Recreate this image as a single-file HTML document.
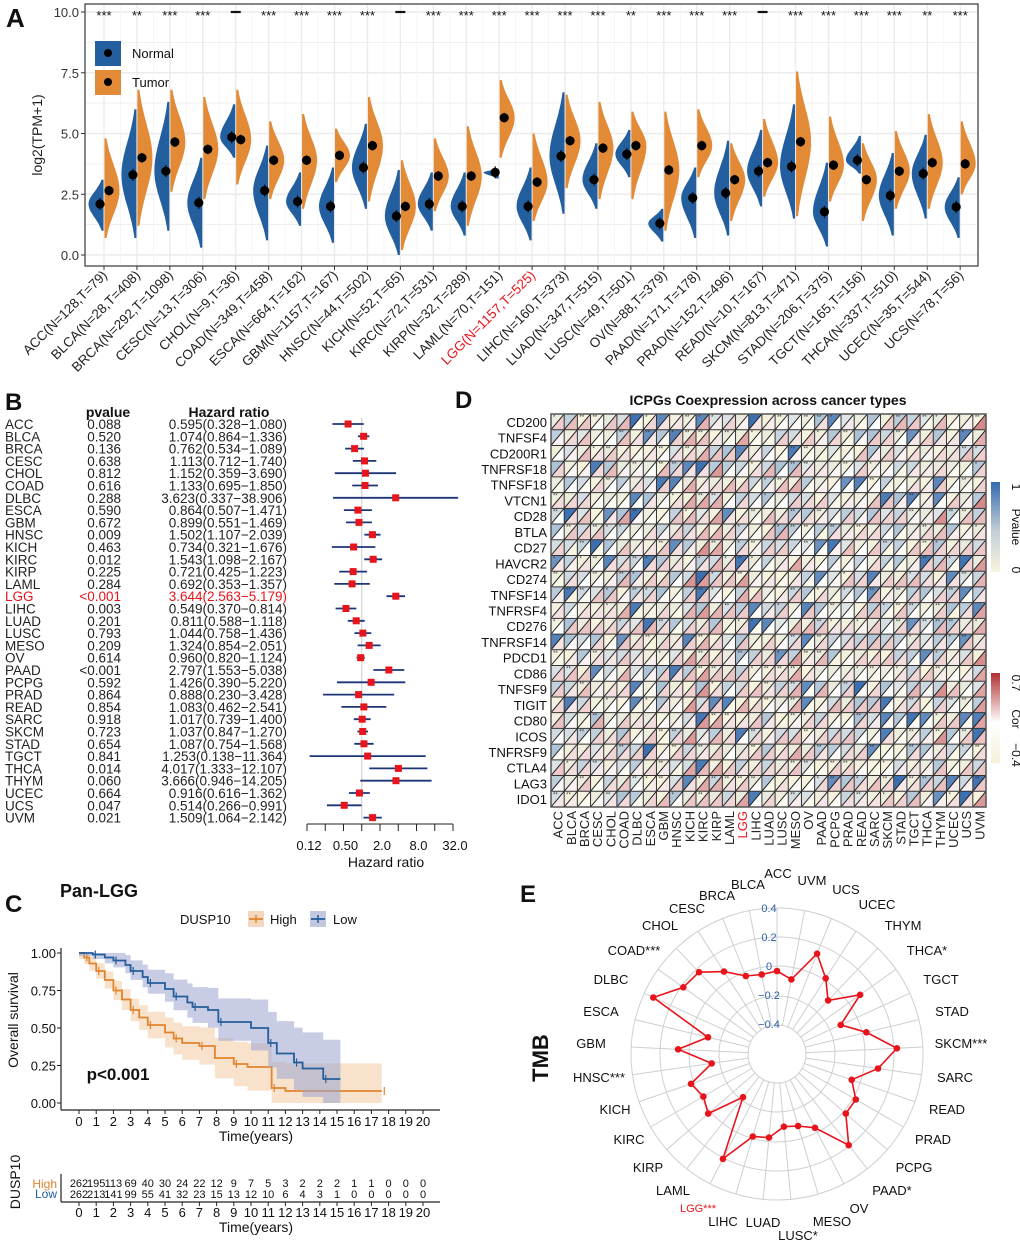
<!DOCTYPE html>
<html><head><meta charset="utf-8">
<style>
html,body{margin:0;padding:0;background:#fff;}
svg{display:block;font-family:"Liberation Sans",Arial,sans-serif;}
</style></head>
<body>
<svg id="s" width="1020" height="1245" viewBox="0 0 1020 1245" xmlns="http://www.w3.org/2000/svg"></svg>
<script>
const S=document.getElementById('s');
let out='';
function t(x,y,str,o={}){const sz=o.size||12,fill=o.fill||'#111',anc=o.anchor||'start',w=o.bold?'bold':'normal',rot=o.rot!==undefined?` transform="rotate(${o.rot} ${x} ${y})"`:'';const db=o.mid?' dominant-baseline="middle"':'';out+=`<text x="${x}" y="${y}" font-size="${sz}" fill="${fill}" text-anchor="${anc}" font-weight="${w}"${db}${rot}>${str}</text>`;}
function L(x1,y1,x2,y2,c,w){out+=`<line x1="${x1}" y1="${y1}" x2="${x2}" y2="${y2}" stroke="${c}" stroke-width="${w}"/>`;}
// ---------- Panel A ----------
const Y=v=>255-v*24.3;
out+=`<rect x="85" y="4" width="893" height="262" fill="#fff" stroke="#444" stroke-width="1.3"/>`;
for(let v=0;v<=10.5;v+=1.25){L(86,Y(v),977,Y(v),'#ebebeb',v%2.5==0?1.4:0.8);}
const names=['ACC(N=128,T=79)','BLCA(N=28,T=408)','BRCA(N=292,T=1098)','CESC(N=13,T=306)','CHOL(N=9,T=36)','COAD(N=349,T=458)','ESCA(N=664,T=162)','GBM(N=1157,T=167)','HNSC(N=44,T=502)','KICH(N=52,T=65)','KIRC(N=72,T=531)','KIRP(N=32,T=289)','LAML(N=70,T=151)','LGG(N=1157,T=525)','LIHC(N=160,T=373)','LUAD(N=347,T=515)','LUSC(N=49,T=501)','OV(N=88,T=379)','PAAD(N=171,T=178)','PRAD(N=152,T=496)','READ(N=10,T=167)','SKCM(N=813,T=471)','STAD(N=206,T=375)','TGCT(N=165,T=156)','THCA(N=337,T=510)','UCEC(N=35,T=544)','UCS(N=78,T=56)'];
const stars=['***','**','***','***','–','***','***','***','***','–','***','***','***','***','***','***','**','***','***','***','–','***','***','***','***','**','***'];
const V=[[2.1,1.0,3.1,2.65,0.7,4.8],[3.3,0.7,6.0,4.0,1.2,6.8],[3.45,1.0,6.3,4.65,2.6,6.8],[2.15,0.3,4.0,4.35,2.3,6.5],[4.85,4.0,6.2,4.75,2.9,6.8],[2.65,0.6,4.5,3.9,2.3,5.5],[2.2,1.2,3.4,3.9,1.9,5.8],[2.0,0.5,3.6,4.1,3.0,5.2],[3.6,1.9,5.4,4.5,2.2,6.5],[1.6,0.0,3.5,2.0,0.2,3.9],[2.1,1.0,3.4,3.25,1.8,4.8],[2.0,0.8,3.4,3.25,1.2,5.3],[3.4,3.15,3.55,5.65,4.0,7.2],[2.0,0.6,3.6,3.0,1.4,5.0],[4.07,1.7,6.7,4.7,2.75,6.6],[3.1,1.9,4.6,4.4,2.3,6.3],[4.15,3.2,5.15,4.5,2.3,5.9],[1.3,0.55,1.9,3.5,1.0,5.9],[2.35,0.7,3.6,4.5,3.2,6.0],[2.55,0.8,4.7,3.1,1.4,4.6],[3.45,2.0,5.15,3.8,2.4,5.6],[3.64,1.5,6.2,4.66,1.6,7.55],[1.78,0.35,3.8,3.7,2.2,5.7],[3.9,3.35,4.9,3.1,1.4,4.6],[2.45,0.8,4.2,3.45,1.9,5.1],[3.35,1.5,4.95,3.8,1.9,5.8],[1.98,0.7,3.2,3.75,2.5,5.5]];
function violin(cx,m,mn,mx,side,col){const W=15;let pts=[];const N=40;for(let i=0;i<=N;i++){const v=mn+(mx-mn)*i/N;const s=v>m?(mx-m)/2.0:(m-mn)/2.0;let w=W*Math.exp(-0.5*Math.pow((v-m)/Math.max(s,0.05),2));pts.push([cx+side*w,Y(v)]);}
let d=`M${cx},${Y(mn)} `+pts.map(p=>`L${p[0].toFixed(1)},${p[1].toFixed(1)}`).join(' ')+` L${cx},${Y(mx)} Z`;out+=`<path d="${d}" fill="${col}"/>`;}
for(let i=0;i<27;i++){const cx=104+i*32.93;L(cx,5,cx,265,'#ebebeb',1.4);if(i<26)L(cx+16.5,5,cx+16.5,265,'#f3f3f3',0.8);}
for(let i=0;i<27;i++){const cx=104+i*32.93,v=V[i];
violin(cx-0.5,v[0],v[1],v[2],-1,'#235f9f');violin(cx+0.5,v[3],v[4],v[5],1,'#e38a37');
L(cx-4,Y(v[0]+0.25),cx-4,Y(v[0]-0.25),'#111',1.3);L(cx+5,Y(v[3]+0.2),cx+5,Y(v[3]-0.2),'#111',1.3);
out+=`<circle cx="${cx-4}" cy="${Y(v[0])}" r="4.6" fill="#000"/><circle cx="${cx+5}" cy="${Y(v[3])}" r="4.6" fill="#000"/>`;
if(stars[i]=='–')L(cx-5,12,cx+5,12,'#111',2.2);else t(cx,20,stars[i],{size:13,anchor:'middle'});
L(cx,266,cx,270,'#333',1);
t(cx+4,276,names[i],{size:13.5,anchor:'end',rot:-45,fill:i==13?'#e8141b':'#222'});}
[[10,'10.0'],[7.5,'7.5'],[5,'5.0'],[2.5,'2.5'],[0,'0.0']].forEach(a=>{t(79,Y(a[0])+5,a[1],{size:13,anchor:'end',fill:'#333'});L(81,Y(a[0]),85,Y(a[0]),'#333',1);});
t(42,135,'log2(TPM+1)',{size:14,anchor:'middle',rot:-90,fill:'#222'});
out+=`<rect x="95" y="41" width="26" height="25" fill="#235f9f"/><rect x="95" y="70" width="26" height="25" fill="#e38a37"/><circle cx="108" cy="53" r="4" fill="#000"/><circle cx="108" cy="82" r="4" fill="#000"/>`;
t(132,58,'Normal',{size:13});t(132,87,'Tumor',{size:13});
t(6,27,'A',{size:26,bold:true});
// ---------- Panel B ----------
t(5,410,'B',{size:24,bold:true});
const B=[['ACC','0.088',0.595,0.328,1.080],['BLCA','0.520',1.074,0.864,1.336],['BRCA','0.136',0.762,0.534,1.089],['CESC','0.638',1.113,0.712,1.740],['CHOL','0.812',1.152,0.359,3.690],['COAD','0.616',1.133,0.695,1.850],['DLBC','0.288',3.623,0.337,38.906],['ESCA','0.590',0.864,0.507,1.471],['GBM','0.672',0.899,0.551,1.469],['HNSC','0.009',1.502,1.107,2.039],['KICH','0.463',0.734,0.321,1.676],['KIRC','0.012',1.543,1.098,2.167],['KIRP','0.225',0.721,0.425,1.223],['LAML','0.284',0.692,0.353,1.357],['LGG','&lt;0.001',3.644,2.563,5.179],['LIHC','0.003',0.549,0.370,0.814],['LUAD','0.201',0.811,0.588,1.118],['LUSC','0.793',1.044,0.758,1.436],['MESO','0.209',1.324,0.854,2.051],['OV','0.614',0.960,0.820,1.124],['PAAD','&lt;0.001',2.797,1.553,5.038],['PCPG','0.592',1.426,0.390,5.220],['PRAD','0.864',0.888,0.230,3.428],['READ','0.854',1.083,0.462,2.541],['SARC','0.918',1.017,0.739,1.400],['SKCM','0.723',1.037,0.847,1.270],['STAD','0.654',1.087,0.754,1.568],['TGCT','0.841',1.253,0.138,11.364],['THCA','0.014',4.017,1.333,12.107],['THYM','0.060',3.666,0.946,14.205],['UCEC','0.664',0.916,0.616,1.362],['UCS','0.047',0.514,0.266,0.991],['UVM','0.021',1.509,1.064,2.142]];
t(108,417,'pvalue',{size:14,bold:true,anchor:'middle'});t(229,417,'Hazard ratio',{size:14,bold:true,anchor:'middle'});
const FX=v=>307+Math.log2(v/0.125)*18.25;
L(FX(1),418,FX(1),820,'#ccc',1);
const f3=v=>v.toFixed(3);
B.forEach((r,i)=>{const y=424+i*12.3;const c=r[0]=='LGG'?'#e8141b':'#222';
t(5,y+5,r[0],{size:13.5,fill:c});t(121,y+5,r[1],{size:13.5,anchor:'end',fill:c});
t(287,y+5,`${f3(r[2])}(${f3(r[3])}−${f3(r[4])})`,{size:13.5,anchor:'end',fill:c});
L(FX(Math.max(r[3],0.125)),y,FX(Math.min(r[4],40)),y,'#1d3577',1.8);
out+=`<rect x="${FX(r[2])-3.5}" y="${y-3.5}" width="7" height="7" fill="#e8141b"/>`;});
L(307,824,453,824,'#222',1);
for(let k=0;k<9;k++){const x=307+k*18.25;L(x,824,x,831,'#222',1);}
[['0.12',0.125],['0.50',0.5],['2.0',2],['8.0',8],['32.0',32]].forEach(a=>t(FX(a[1])+2,850,a[0],{size:13,anchor:'middle'}));
t(386,867,'Hazard ratio',{size:14,anchor:'middle'});
// ---------- Panel D ----------
t(455,408,'D',{size:24,bold:true});
t(768,405,'ICPGs Coexpression across cancer types',{size:14,bold:true,anchor:'middle'});
const rows=['CD200','TNFSF4','CD200R1','TNFRSF18','TNFSF18','VTCN1','CD28','BTLA','CD27','HAVCR2','CD274','TNFSF14','TNFRSF4','CD276','TNFRSF14','PDCD1','CD86','TNFSF9','TIGIT','CD80','ICOS','TNFRSF9','CTLA4','LAG3','IDO1'];
const cols=['ACC','BLCA','BRCA','CESC','CHOL','COAD','DLBC','ESCA','GBM','HNSC','KICH','KIRC','KIRP','LAML','LGG','LIHC','LUAD','LUSC','MESO','OV','PAAD','PCPG','PRAD','READ','SARC','SKCM','STAD','TGCT','THCA','THYM','UCEC','UCS','UVM'];
let seed=12345;const rnd=()=>{seed=(seed*16807)%2147483647;return seed/2147483647;};
const hx=551,hy=414,cw=435/33,rh=393/25;
const lerp=(a,b,f)=>a.map((v,i)=>Math.round(v+(b[i]-v)*f));
const rgb=c=>`rgb(${c[0]},${c[1]},${c[2]})`;
const cream=[248,244,222],blue=[58,110,176],white=[255,255,255],red=[200,100,100];
const redBias={10:0.25,11:0.3,12:0.2,14:0.15,18:0.2,29:0.25,32:0.35,5:0.1,27:0.1};
for(let r=0;r<25;r++)for(let c=0;c<33;c++){const x=hx+c*cw,y=hy+r*rh;
let p=rnd();let pc;if(p<0.5)pc=lerp(cream,[232,234,222],rnd());else if(p<0.88)pc=lerp([225,230,230],[170,192,212],rnd());else pc=lerp([110,148,192],blue,rnd());
let q=Math.min(1,rnd()*0.6+(redBias[c]||0)+rnd()*0.15);let cc=q<0.25?lerp(cream,white,q*4):lerp(white,red,Math.min(1,(q-0.25)*1.0));
out+=`<path d="M${x},${y} L${x+cw},${y} L${x},${y+rh} Z" fill="${rgb(pc)}"/><path d="M${x+cw},${y} L${x+cw},${y+rh} L${x},${y+rh} Z" fill="${rgb(cc)}"/>`;
L(x,y+rh,x+cw,y,'#111',0.9);
if(rnd()<0.3)t(x+2,y+5,'**'.slice(0,1+Math.floor(rnd()*3)),{size:6,fill:'#333'});}
for(let r=0;r<=25;r++)L(hx,hy+r*rh,hx+435,hy+r*rh,'#333',1);
for(let c=0;c<=33;c++)L(hx+c*cw,hy,hx+c*cw,hy+393,'#333',1);
out+=`<rect x="${hx}" y="${hy}" width="435" height="393" fill="none" stroke="#555" stroke-width="1.5"/>`;
rows.forEach((n,r)=>t(547,hy+r*rh+rh/2+5,n,{size:13,anchor:'end'}));
cols.forEach((n,c)=>{const x=hx+c*cw+cw/2+5;t(x,811,n,{size:13,anchor:'end',rot:-90,fill:n=='LGG'?'#e8141b':'#222'});});
out+=`<defs><linearGradient id="gp" x1="0" y1="0" x2="0" y2="1"><stop offset="0" stop-color="#356bb0"/><stop offset="0.55" stop-color="#c3cfd6"/><stop offset="1" stop-color="#f8f4de"/></linearGradient><linearGradient id="gc" x1="0" y1="0" x2="0" y2="1"><stop offset="0" stop-color="#b03030"/><stop offset="0.55" stop-color="#fff"/><stop offset="1" stop-color="#f5f1d8"/></linearGradient></defs>`;
out+=`<rect x="991" y="482" width="9" height="90" fill="url(#gp)"/><rect x="991" y="673" width="9" height="90" fill="url(#gc)"/>`;
t(1012,487,'1',{size:12,rot:90,anchor:'middle'});t(1012,527,'Pvalue',{size:12,rot:90,anchor:'middle'});t(1012,570,'0',{size:12,rot:90,anchor:'middle'});
t(1012,683,'0.7',{size:12,rot:90,anchor:'middle'});t(1012,719,'Cor',{size:12,rot:90,anchor:'middle'});t(1012,755,'−0.4',{size:12,rot:90,anchor:'middle'});
// ---------- Panel C ----------
t(5,912,'C',{size:24,bold:true});
t(60,897,'Pan-LGG',{size:18,bold:true});
t(180,924,'DUSP10',{size:13});
out+=`<rect x="248" y="911" width="16" height="16" fill="#f3d7be"/><rect x="310" y="911" width="16" height="16" fill="#c2c8e0"/>`;
L(249,919,263,919,'#e0852f',1.8);L(256,915,256,923,'#e0852f',1.5);L(311,919,325,919,'#255d9c',1.8);L(318,915,318,923,'#255d9c',1.5);
t(270,924,'High',{size:13});t(333,924,'Low',{size:13});
const KX=v=>79+v*17.2,KY=s=>1103-s*150;
function km(pts,col,band,lo,hi){let d='';for(let i=0;i<pts.length;i++){const [tt,s]=pts[i];const nt=i+1<pts.length?pts[i+1][0]:tt;d+=(i?'L':'M')+KX(tt)+','+KY(s)+' L'+KX(nt)+','+KY(s)+' ';}
let u=[],b=[];pts.forEach((p,i)=>{const nt=i+1<pts.length?pts[i+1][0]:p[0];u.push([KX(p[0]),KY(Math.min(1,p[1]+hi(p[0]))),KX(nt)]);b.push([KX(p[0]),KY(Math.max(0,p[1]-lo(p[0]))),KX(nt)]);});
let bp='M'+u.map(q=>`${q[0]},${q[1]} L${q[2]},${q[1]}`).join(' L')+' L'+b.reverse().map(q=>`${q[2]},${q[1]} L${q[0]},${q[1]}`).join(' L')+' Z';
out+=`<path d="${bp}" fill="${band}" opacity="0.55"/><path d="${d}" fill="none" stroke="${col}" stroke-width="1.8"/>`;
pts.forEach((p,i)=>{if(i%2==1){L(KX(p[0]+0.15),KY(p[1])-4,KX(p[0]+0.15),KY(p[1])+4,col,1.2);}});}
const hiP=[[0,1],[0.3,0.97],[0.6,0.93],[1,0.88],[1.5,0.82],[2,0.75],[2.5,0.69],[3,0.62],[3.5,0.57],[4,0.52],[5,0.47],[5.5,0.43],[6,0.40],[7,0.38],[7.9,0.30],[9,0.26],[9.8,0.24],[11.2,0.10],[12,0.08],[17.6,0.08]];
const loP=[[0,1],[0.8,0.99],[1.5,0.97],[2,0.95],[2.7,0.92],[3,0.88],[3.7,0.84],[4,0.80],[5,0.76],[5.5,0.71],[6.3,0.67],[6.6,0.64],[7.5,0.62],[8.1,0.54],[10,0.50],[11,0.40],[11.5,0.33],[12.5,0.27],[13,0.23],[14.2,0.16],[15.2,0.16]];
km(hiP,'#e0852f','#f4caa0',t=>0.04+t*0.012,t=>0.04+t*0.012);
km(loP,'#255d9c','#9aa4cf',t=>0.02+t*0.013,t=>0.02+t*0.017);
L(61,948,61,1110,'#222',1.2);L(61,1110,440,1110,'#222',1.2);
[[1,'1.00'],[0.75,'0.75'],[0.5,'0.50'],[0.25,'0.25'],[0,'0.00']].forEach(a=>{t(56,KY(a[0])+5,a[1],{size:13,anchor:'end'});L(57,KY(a[0]),61,KY(a[0]),'#222',1);});
for(let i=0;i<=20;i++){L(KX(i),1110,KX(i),1114,'#222',1);t(KX(i),1126,i,{size:13,anchor:'middle'});}
t(256,1141,'Time(years)',{size:14,anchor:'middle'});
t(18,1020,'Overall survival',{size:14,anchor:'middle',rot:-90});
t(118,1080,'p&lt;0.001',{size:17,bold:true,anchor:'middle'});
const hN=[262,195,113,69,40,30,24,22,12,9,7,5,3,2,2,2,1,1,0,0,0],lN=[262,213,141,99,55,41,32,23,15,13,12,10,6,4,3,1,0,0,0,0,0];
for(let i=0;i<=20;i++){t(KX(i),1187,hN[i],{size:11,anchor:'middle'});t(KX(i),1198,lN[i],{size:11,anchor:'middle'});L(KX(i),1202,KX(i),1206,'#222',1);t(KX(i),1217,i,{size:13,anchor:'middle'});}
t(57,1188,'High',{size:12,anchor:'end',fill:'#e0852f'});t(57,1198,'Low',{size:12,anchor:'end',fill:'#255d9c'});
L(61,1174,61,1202,'#222',1.2);L(61,1202,440,1202,'#222',1.2);
t(256,1232,'Time(years)',{size:14,anchor:'middle'});
t(20,1182,'DUSP10',{size:14,anchor:'middle',rot:-90});
// ---------- Panel E ----------
t(520,902,'E',{size:24,bold:true});
t(548,1058,'TMB',{size:22,bold:true,anchor:'middle',rot:-90});
const cx=777,cy=1054;
[29,58,88,117,146].forEach(r=>out+=`<circle cx="${cx}" cy="${cy}" r="${r}" fill="none" stroke="#cfcfcf" stroke-width="1"/>`);
for(let i=0;i<33;i++){const a=i*2*Math.PI/33;L(cx+29*Math.sin(a),cy-29*Math.cos(a),cx+146*Math.sin(a),cy-146*Math.cos(a),'#cfcfcf',1);}
const rad=[83,76,108,90,74,102,70,92,120,102,79,91,91,116,83,75,73,84,86,118,55,91,85,91,66,99,71,136,115,113,98,84,81];
let pp=rad.map((r,i)=>{const a=i*2*Math.PI/33;return [cx+r*Math.sin(a),cy-r*Math.cos(a)];});
out+=`<polygon points="${pp.map(p=>p[0].toFixed(1)+','+p[1].toFixed(1)).join(' ')}" fill="none" stroke="#e8141b" stroke-width="1.6"/>`;
pp.forEach(p=>out+=`<circle cx="${p[0].toFixed(1)}" cy="${p[1].toFixed(1)}" r="3.3" fill="#e8141b"/>`);
[['0.4',908],['0.2',937],['0',966],['−0.2',995],['−0.4',1024]].forEach(a=>t(769,a[1]+4,a[0],{size:11,anchor:'middle',fill:'#2f5fa8'}));
const EL=[['ACC',778,873],['UVM',812,880],['UCS',846,889],['UCEC',877,904],['THYM',903,925],['THCA*',927,950],['TGCT',941,979],['STAD',952,1011],['SKCM***',961,1043],['SARC',955,1077],['READ',947,1109],['PRAD',933,1139],['PCPG',914,1167],['PAAD*',892,1190],['OV',859,1208],['MESO',832,1221],['LUSC*',798,1235],['LUAD',763,1222],['LIHC',723,1221],['LGG***',698,1207],['LAML',673,1190],['KIRP',648,1167],['KIRC',629,1139],['KICH',615,1109],['HNSC***',599,1077],['GBM',591,1043],['ESCA',601,1011],['DLBC',611,979],['COAD***',634,950],['CHOL',660,925],['CESC',687,908],['BRCA',717,895],['BLCA',748,884]];
EL.forEach(e=>t(e[1],e[2]+5,e[0],{size:e[0]=='LGG***'?11:13,anchor:'middle',fill:e[0]=='LGG***'?'#e8141b':'#111'}));
S.innerHTML=out;
</script>
</body></html>
